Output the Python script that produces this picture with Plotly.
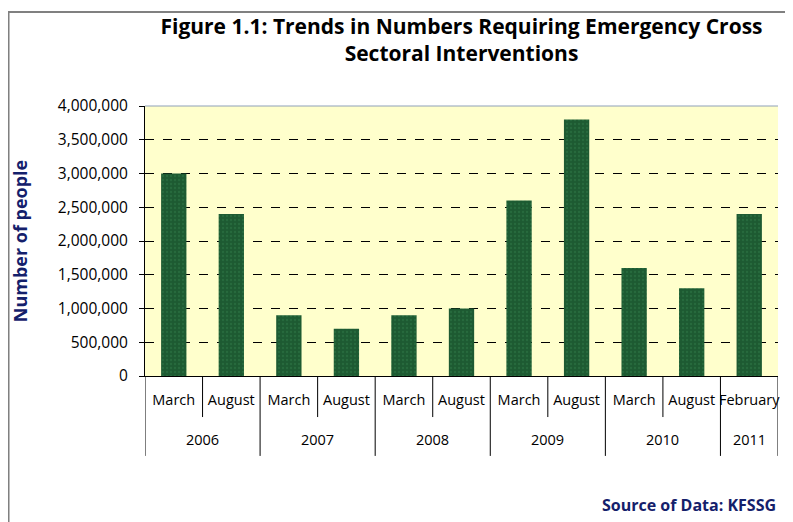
import plotly.graph_objects as go

years = ["2006", "2006", "2007", "2007", "2008", "2008", "2009", "2009", "2010", "2010", "2011"]
months = ["March", "August", "March", "August", "March", "August",
          "March", "August", "March", "August", "February"]
people = [3000000, 2400000, 900000, 700000, 900000, 1000000,
          2600000, 3800000, 1600000, 1300000, 2400000]

FONT = "Open Sans"
NAVY = "#14206B"

cats = [f"{y} {m}" for y, m in zip(years, months)]

fig = go.Figure()
fig.add_trace(go.Bar(
    x=cats,
    y=people,
    marker=dict(
        color="#1D5A32",
        line=dict(width=0),
        pattern=dict(shape=".", fgcolor="#2F7A48", size=4, solidity=0.25),
    ),
    width=0.44,
))

# two-row category labels: month boundaries (short) and year boundaries (long)
shapes = []
annotations = []
start = 0
for i in range(len(cats) + 1):
    if i == len(cats) or (i > 0 and years[i] != years[i - 1]) or i == 0:
        shapes.append(dict(type="line", xref="x", yref="paper",
                           x0=i - 0.5, x1=i - 0.5, y0=0, y1=-0.296,
                           line=dict(color="black", width=1)))
        if i > 0:
            annotations.append(dict(text=years[i - 1], xref="x", yref="paper",
                                    x=(start + i - 1) / 2, y=-0.237,
                                    showarrow=False, yanchor="middle",
                                    font=dict(family=FONT, size=14.5, color="black")))
            start = i
    else:
        shapes.append(dict(type="line", xref="x", yref="paper",
                           x0=i - 0.5, x1=i - 0.5, y0=0, y1=-0.152,
                           line=dict(color="black", width=1)))

# outer frame and light top edge of plot area
shapes += [
    dict(type="rect", xref="paper", yref="paper",
         x0=-0.2156, x1=1.2, y0=-0.6, y1=1.348,
         line=dict(color="#808080", width=2), layer="below"),
    dict(type="line", xref="paper", yref="paper",
         x0=0, x1=1, y0=1, y1=1,
         line=dict(color="#8FA0B8", width=1)),
]
annotations.append(dict(text="<b>Source of Data: KFSSG</b>", xref="paper", yref="paper",
                        x=1, y=-0.478, xanchor="right", yanchor="middle", showarrow=False,
                        font=dict(family=FONT, size=16, color=NAVY)))

# page body has an 8px margin, so the figure is 8px smaller each way
W, H = 785, 514
fig.update_layout(
    width=W,
    height=H,
    margin=dict(l=137, r=15, t=98, b=146, autoexpand=False),
    paper_bgcolor="white",
    plot_bgcolor="#FFFFCC",
    showlegend=False,
    font=dict(family=FONT, color="black", size=14),
    title=dict(
        text="<b>Figure 1.1: Trends in Numbers Requiring Emergency Cross<br>Sectoral Interventions</b>",
        x=0.5, xref="paper", xanchor="center",
        y=1 - 26 / H, yref="container", yanchor="top",
        font=dict(family=FONT, size=21, color="black"),
    ),
    xaxis=dict(
        type="category",
        automargin=False,
        tickangle=0,
        tickmode="array", tickvals=cats, ticktext=months,
        showline=True, linecolor="black", linewidth=1,
        ticks="",
        ticklabelstandoff=11,
        tickfont=dict(family=FONT, size=14.5, color="black"),
        showgrid=False,
        range=[-0.5, 10.5],
    ),
    yaxis=dict(
        automargin=False,
        range=[0, 4000000],
        dtick=500000,
        tickformat=",d",
        showline=True, linecolor="black", linewidth=1,
        ticks="outside", ticklen=5, tickcolor="black",
        ticklabelstandoff=8,
        gridcolor="black", griddash="dash", gridwidth=1,
        tickfont=dict(family=FONT, size=15.5, color="black"),
        title=dict(text="<b>Number of people</b>",
                   font=dict(family=FONT, size=18, color=NAVY), standoff=28),
        zeroline=False,
    ),
    shapes=shapes,
    annotations=annotations,
)

fig.write_html("out.html")
